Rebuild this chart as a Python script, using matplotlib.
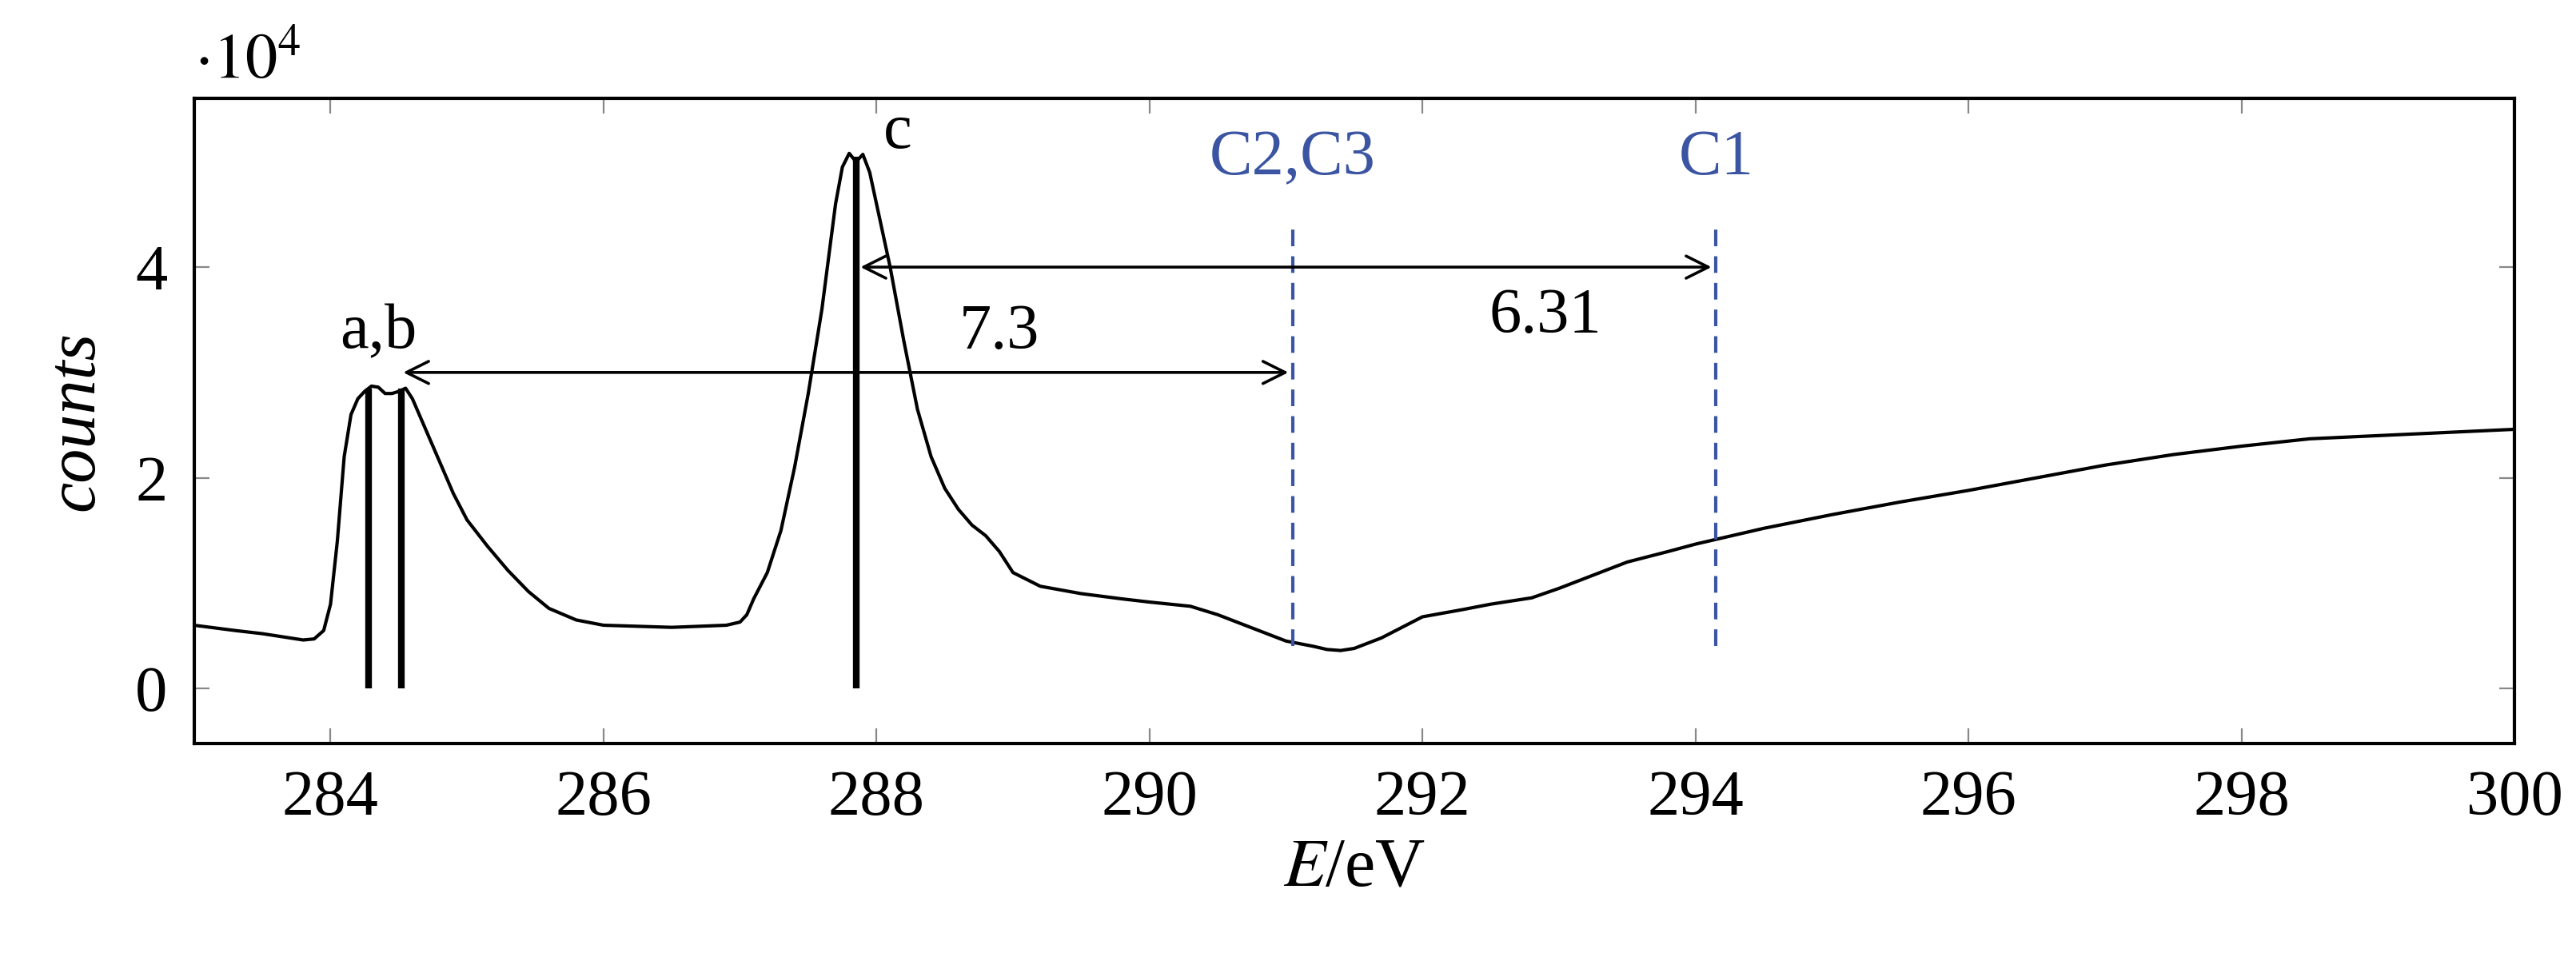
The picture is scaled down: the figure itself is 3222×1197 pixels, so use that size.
import numpy as np
import matplotlib.pyplot as plt

plt.rcParams['font.family'] = ['Liberation Serif', 'DejaVu Serif']
plt.rcParams['mathtext.fontset'] = 'stix'

# spectrum (E in eV, counts in 1e4)
energy = [283.0, 283.3, 283.5, 283.7, 283.8, 283.88, 283.95, 284.0, 284.05, 284.1,
          284.15, 284.2, 284.25, 284.3, 284.35, 284.4, 284.45, 284.5, 284.55, 284.6,
          284.65, 284.7, 284.8, 284.9, 285.0, 285.15, 285.3, 285.45, 285.6, 285.8,
          286.0, 286.5, 286.9, 287.0, 287.05, 287.1, 287.2, 287.3, 287.4, 287.5,
          287.6, 287.65, 287.7, 287.75, 287.8, 287.85, 287.9, 287.95, 288.0, 288.1,
          288.2, 288.3, 288.4, 288.5, 288.6, 288.7, 288.8, 288.9, 289.0, 289.2,
          289.5, 289.8, 290.0, 290.3, 290.5, 290.8, 291.0, 291.2, 291.3, 291.4,
          291.5, 291.7, 292.0, 292.3, 292.5, 292.8, 293.0, 293.3, 293.5, 293.8,
          294.0, 294.5, 295.0, 295.5, 296.0, 296.5, 297.0, 297.5, 298.0, 298.5,
          299.0, 299.5, 300.0]
counts = [0.6, 0.55, 0.52, 0.48, 0.46, 0.47, 0.55, 0.8, 1.4, 2.2,
          2.6, 2.75, 2.82, 2.87, 2.86, 2.8, 2.8, 2.82, 2.85, 2.75,
          2.6, 2.45, 2.15, 1.85, 1.6, 1.35, 1.12, 0.92, 0.76, 0.65,
          0.6, 0.58, 0.6, 0.63, 0.7, 0.85, 1.1, 1.5, 2.1, 2.8,
          3.6, 4.1, 4.6, 4.95, 5.08, 5.0, 5.07, 4.9, 4.6, 4.0,
          3.3, 2.65, 2.2, 1.9, 1.7, 1.55, 1.45, 1.3, 1.1, 0.97,
          0.9, 0.85, 0.82, 0.78, 0.7, 0.55, 0.45, 0.4, 0.37, 0.36,
          0.38, 0.48, 0.68, 0.75, 0.8, 0.86, 0.95, 1.1, 1.2, 1.3,
          1.37, 1.52, 1.65, 1.77, 1.88, 2.0, 2.12, 2.22, 2.3, 2.37,
          2.4, 2.43, 2.46]

peak_pos = [284.28, 284.52, 287.85]
peak_height = [2.85, 2.85, 5.05]
ref_pos = [291.05, 294.15]
ref_labels = ["C2,C3", "C1"]
blue = "#3b55a3"
fs = 29

fig = plt.figure(figsize=(16.115, 5.985), dpi=200)
ax = fig.add_axes([0.0753, 0.2234, 0.9005, 0.6736])
ax.plot(energy, counts, color="black", lw=1.5)
ax.vlines(peak_pos, 0, peak_height, color="black", lw=3)
ax.vlines(ref_pos, 0.4, 4.4, color=blue, lw=1.5, linestyles=(0, (5, 3)))
for x, lab in zip(ref_pos, ref_labels):
    ax.text(x, 4.75, lab, color=blue, ha="center", va="bottom", fontsize=fs)

ax.annotate("", xy=(291.05, 3.0), xytext=(284.5, 3.0),
            arrowprops=dict(arrowstyle="<->", color="black", lw=1.3, mutation_scale=25))
ax.annotate("", xy=(294.15, 4.0), xytext=(287.85, 4.0),
            arrowprops=dict(arrowstyle="<->", color="black", lw=1.3, mutation_scale=25))
ax.text(288.9, 3.1, "7.3", ha="center", va="bottom", fontsize=fs)
ax.text(292.9, 3.25, "6.31", ha="center", va="bottom", fontsize=fs)
ax.text(284.35, 3.1, "a,b", ha="center", va="bottom", fontsize=fs)
ax.text(288.05, 5.0, "c", ha="left", va="bottom", fontsize=fs)

ax.set_xlim(283, 300)
ax.set_ylim(-0.52, 5.6)
ax.set_xticks(range(284, 301, 2))
ax.set_yticks([0, 2, 4])
ax.tick_params(direction="in", top=True, right=True, labelsize=fs, length=7,
               color="#888888", pad=12)
for s in ax.spines.values():
    s.set_linewidth(1.5)
ax.text(0.0, 1.01, r"$\cdot 10^4$", transform=ax.transAxes, fontsize=fs, ha="left", va="bottom")
ax.set_xlabel(r"$E$/eV", fontsize=31)
ax.set_ylabel("counts", fontsize=31, style="italic", labelpad=12)

fig.savefig("out.png", dpi=200)
